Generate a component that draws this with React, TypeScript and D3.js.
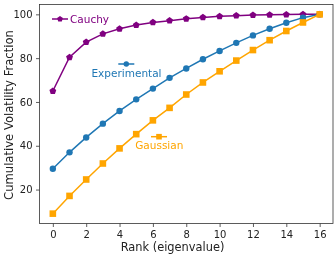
import React, { useEffect, useRef } from "react";
import * as d3 from "d3";

const ranks = [0, 1, 2, 3, 4, 5, 6, 7, 8, 9, 10, 11, 12, 13, 14, 15, 16];
const cauchy = [65.0, 80.4, 87.3, 91.1, 93.4, 95.1, 96.3, 97.1, 98.0, 98.6, 99.1, 99.4, 99.7, 99.8, 99.9, 100, 100];
const experimental = [29.5, 37.0, 43.8, 50.1, 55.9, 61.2, 66.1, 71.0, 75.3, 79.5, 83.3, 87.0, 90.4, 93.4, 96.2, 98.5, 100];
const gaussian = [9.0, 17.1, 24.6, 31.9, 38.8, 45.3, 51.6, 57.3, 63.4, 68.9, 74.0, 78.9, 83.7, 88.2, 92.4, 96.3, 100];
const xTicks = [0, 2, 4, 6, 8, 10, 12, 14, 16];
const yTicks = [20, 40, 60, 80, 100];

const series = [
  { name: "Cauchy", values: cauchy, color: "#800080", marker: "pentagon" },
  { name: "Experimental", values: experimental, color: "#1f77b4", marker: "circle" },
  { name: "Gaussian", values: gaussian, color: "#FFA500", marker: "square" },
];

function markerPath(kind: string, r: number) {
  if (kind === "circle") return d3.symbol().type(d3.symbolCircle).size(Math.PI * r * r)();
  if (kind === "square") return d3.symbol().type(d3.symbolSquare).size(4 * r * r)();
  const pts = d3.range(5).map((i) => {
    const a = -Math.PI / 2 + (i * 2 * Math.PI) / 5;
    return [r * Math.cos(a), r * Math.sin(a)];
  });
  return "M" + pts.map((p) => p.join(",")).join("L") + "Z";
}

export default function App() {
  const ref = useRef<SVGSVGElement>(null);
  useEffect(() => {
    const node = ref.current; if (!node) return;
    const svg = d3.select(node);
    svg.selectAll("*").remove();
    const w = 335, h = 256, m = { t: 4.5, r: 2, b: 32.5, l: 39.5 };
    const x = d3.scaleLinear().domain([-0.8, 16.8]).range([m.l, w - m.r]);
    const y = d3.scaleLinear().domain([4.5, 104.5]).range([h - m.b, m.t]);
    const font = "DejaVu Sans, sans-serif";

    const g = svg.append("g");
    const sizes: Record<string, number> = { pentagon: 3.6, circle: 3.2, square: 3.3 };
    series.forEach((s) => {
      const line = d3.line<number>().x((_, i) => x(ranks[i])).y((d) => y(d));
      g.append("path").datum(s.values).attr("fill", "none").attr("stroke", s.color).attr("stroke-width", 1.5).attr("d", line);
      g.selectAll(null).data(s.values).enter().append("path")
        .attr("d", markerPath(s.marker, sizes[s.marker]))
        .attr("transform", (d, i) => `translate(${x(ranks[i])},${y(d)})`)
        .attr("fill", s.color);
    });

    const xa = g.append("g").attr("transform", `translate(0,${h - m.b})`).call(d3.axisBottom(x).tickValues(xTicks).tickSize(3.5).tickPadding(3.5));
    const ya = g.append("g").attr("transform", `translate(${m.l},0)`).call(d3.axisLeft(y).tickValues(yTicks).tickSize(3.5).tickPadding(3.5));
    [xa, ya].forEach((a) => {
      a.select(".domain").remove();
      a.selectAll("text").attr("font-size", 10).attr("font-family", font).attr("fill", "#222");
      a.selectAll("line").attr("stroke", "#333").attr("stroke-width", 0.8);
    });
    g.append("rect").attr("x", m.l).attr("y", m.t).attr("width", w - m.r - m.l).attr("height", h - m.b - m.t)
      .attr("fill", "none").attr("stroke", "#333").attr("stroke-width", 0.8);

    g.append("text").attr("x", 172.5).attr("y", 251).attr("text-anchor", "middle")
      .attr("font-size", 11.4).attr("font-family", font).attr("fill", "#222").text("Rank (eigenvalue)");
    g.append("text").attr("transform", `translate(12.5,${(m.t + h - m.b) / 2 + 1}) rotate(-90)`).attr("text-anchor", "middle")
      .attr("font-size", 11.6).attr("font-family", font).attr("fill", "#222").text("Cumulative Volatility Fraction");

    // inline labels
    const labels = [
      { s: series[0], hx: 60, hy: 19, tx: 70, ty: 23, anchor: "start" },
      { s: series[1], hx: 126.3, hy: 64, tx: 126.5, ty: 77, anchor: "middle" },
      { s: series[2], hx: 159, hy: 136.7, tx: 159.3, ty: 148.5, anchor: "middle" },
    ];
    labels.forEach((l) => {
      g.append("line").attr("x1", l.hx - 8).attr("x2", l.hx + 8).attr("y1", l.hy).attr("y2", l.hy)
        .attr("stroke", l.s.color).attr("stroke-width", 1.5);
      g.append("path").attr("d", markerPath(l.s.marker, sizes[l.s.marker] * 0.85))
        .attr("transform", `translate(${l.hx},${l.hy})`).attr("fill", l.s.color);
      g.append("text").attr("x", l.tx).attr("y", l.ty).attr("text-anchor", l.anchor)
        .attr("font-size", 10.5).attr("font-family", font).attr("fill", l.s.color).text(l.s.name);
    });
  }, []);
  return (
    <div style={{ position: "fixed", left: 0, top: 0 }}>
      <svg ref={ref} width={335} height={256} style={{ display: "block" }} />
    </div>
  );
}
